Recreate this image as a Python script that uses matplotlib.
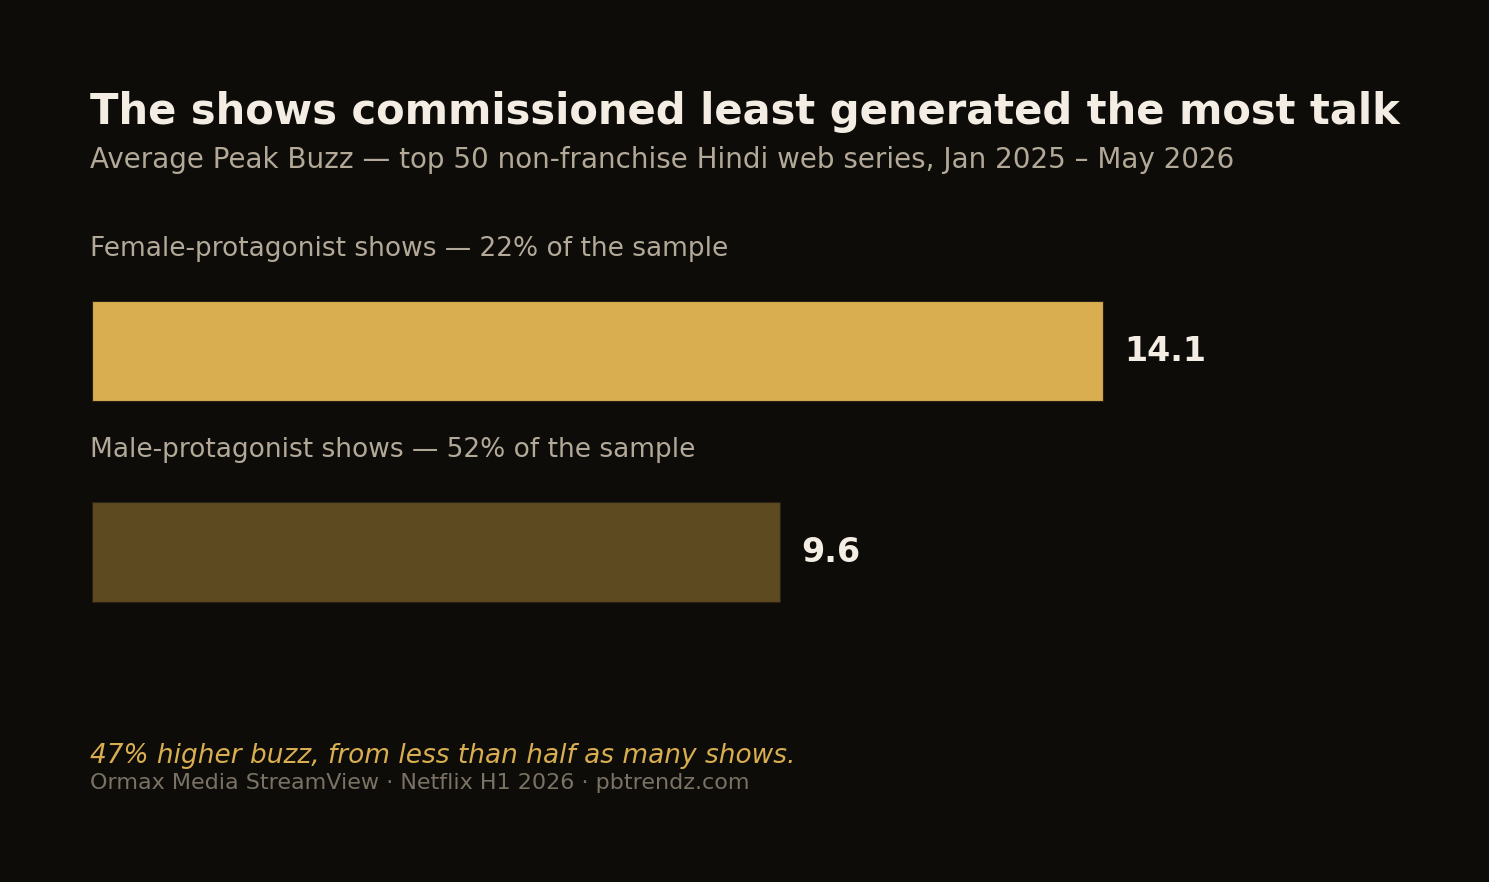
import matplotlib.pyplot as plt

# data
groups = ["Female-protagonist shows", "Male-protagonist shows"]
shares = [22, 52]
buzz = [14.1, 9.6]
bar_colors = ["#d9ae50", "#5e4a20"]

bg = "#0d0c09"
W, H = 1489, 882

fig = plt.figure(figsize=(W / 100, H / 100), dpi=100, facecolor=bg)
plt.rcParams['font.family'] = ['DejaVu Sans']

# axes placed in pixel terms so bars line up with the reference
ax_left = 92 / W
ax_width = 15 * 71.7 / W
ax_bottom = (H - 620) / H
ax_height = 330 / H
ax = fig.add_axes([ax_left, ax_bottom, ax_width, ax_height])
ax.set_facecolor(bg)
ax.set_xlim(0, 15)
ax.set_ylim(-0.338, 1.3035)

ypos = [1, 0]
ax.barh(ypos, buzz, height=100 / 201, color=bar_colors,
        edgecolor="#2a2214", linewidth=0.8, align="center")
for y, v in zip(ypos, buzz):
    ax.annotate(f"{v}", xy=(v, y), xytext=(15, 0), textcoords="offset points",
                va="center", ha="left", fontsize=24, fontweight="bold",
                color="#f3ede4")
ax.axis("off")

# texts
def fy(px):
    return 1 - px / H

fig.text(90 / W, fy(124), "The shows commissioned least generated the most talk",
         fontsize=30, fontweight="bold", color="#f3ede4", va="baseline")
fig.text(90 / W, fy(168), "Average Peak Buzz \u2014 top 50 non-franchise Hindi web series, Jan 2025 \u2013 May 2026",
         fontsize=20, color="#b3a998", va="baseline")

label_base = [256, 457]
for g, s, b in zip(groups, shares, label_base):
    fig.text(90 / W, fy(b), f"{g} \u2014 {s}% of the sample",
             fontsize=19, color="#b3a998", va="baseline")

fig.text(90 / W, fy(763), "47% higher buzz, from less than half as many shows.",
         fontsize=19, style="italic", color="#d9ae50", va="baseline")
fig.text(90 / W, fy(789), "Ormax Media StreamView \u00b7 Netflix H1 2026 \u00b7 pbtrendz.com",
         fontsize=16, color="#7a7265", va="baseline")

fig.savefig("out.png", dpi=100, facecolor=bg)
